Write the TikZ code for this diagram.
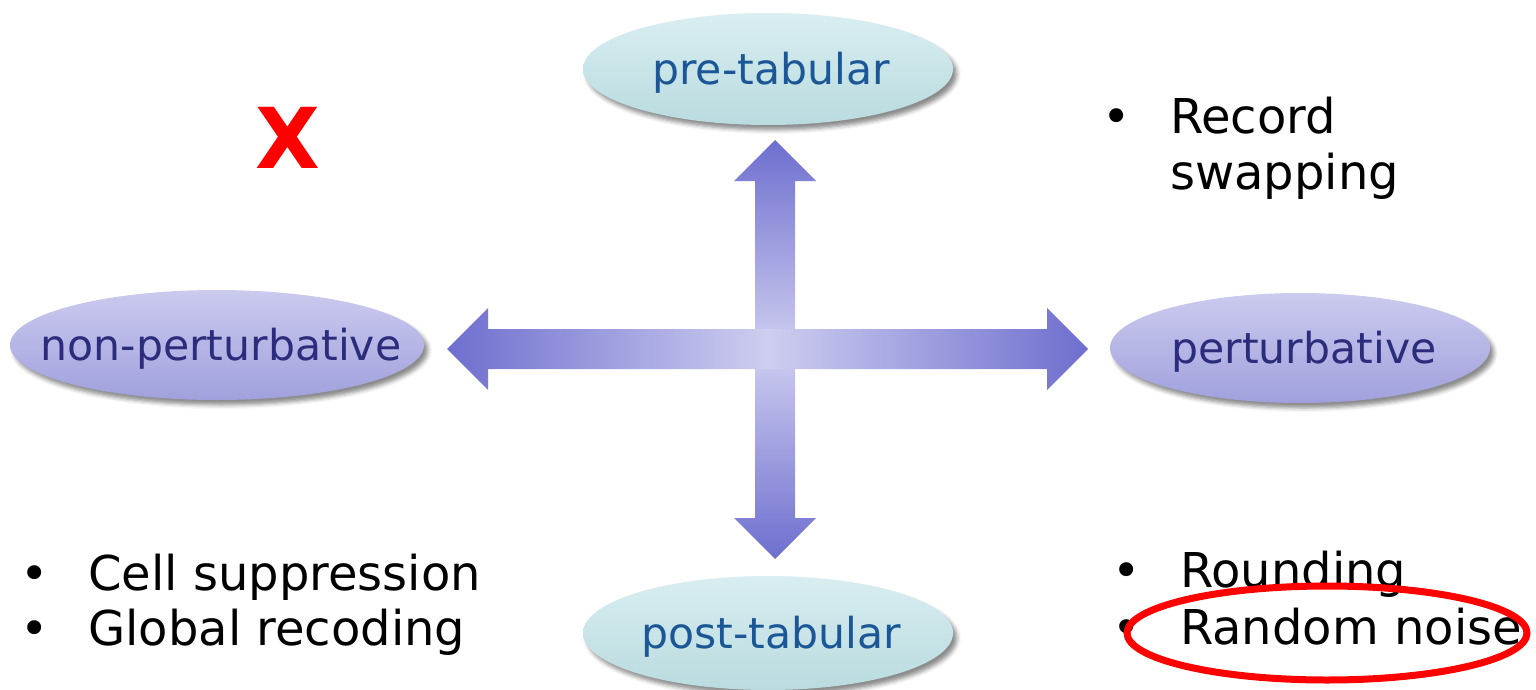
\documentclass[tikz,border=0pt]{standalone}
\usepackage{fontspec}
\setmainfont{DejaVu Sans}
\usetikzlibrary{shapes.geometric,shadows.blur}

\definecolor{tealtop}{HTML}{D9EEF1}
\definecolor{tealbot}{HTML}{B9DBDF}
\definecolor{tealtext}{HTML}{1B5796}
\definecolor{lavtop}{HTML}{CBCBEF}
\definecolor{lavbot}{HTML}{A0A0DD}
\definecolor{lavtext}{HTML}{2C2C7C}
\definecolor{arrowdark}{HTML}{6E6ECF}
\definecolor{arrowlight}{HTML}{CECEF0}

\tikzset{
  oval/.style={ellipse, inner sep=0pt,
    blur shadow={shadow xshift=4pt, shadow yshift=-5pt, shadow blur radius=4pt, shadow opacity=45}},
  tealoval/.style={oval, top color=tealtop, bottom color=tealbot},
  lavoval/.style={oval, top color=lavtop, bottom color=lavbot},
  ovaltext/.style={inner sep=0pt, font=\fontsize{42.6}{50}\selectfont},
  itemtext/.style={anchor=base west, inner sep=0pt, font=\fontsize{48}{56}\selectfont},
  bulletmark/.style={anchor=base, inner sep=0pt, font=\fontsize{48}{56}\selectfont},
}

\begin{document}
\begin{tikzpicture}[x=1pt, y=-1pt]
  \useasboundingbox (0,0) rectangle (1536,690);

  % the four categories: shaded ovals with their labels on top
  \node[tealoval, minimum width=370pt, minimum height=112pt] (pre)  at (768,69)  {};
  \node[tealoval, minimum width=370pt, minimum height=114pt] (post) at (768,633) {};
  \node[lavoval,  minimum width=414pt, minimum height=110pt] (non)  at (217,345) {};
  \node[lavoval,  minimum width=380pt, minimum height=110pt] (pert) at (1300,348) {};
  \node[ovaltext, text=tealtext] (prelabel)  at ([xshift=3pt,yshift=-4pt]pre.center)  {pre-tabular};
  \node[ovaltext, text=tealtext] (postlabel) at ([xshift=3pt,yshift=-4pt]post.center) {post-tabular};
  \node[ovaltext, text=lavtext]  (nonlabel)  at ([xshift=4pt,yshift=-4pt]non.center)  {non-perturbative};
  \node[ovaltext, text=lavtext]  (pertlabel) at ([xshift=4pt,yshift=-4pt]pert.center) {perturbative};

  % two double-headed block arrows crossing in the middle
  \coordinate (c) at (775,349);
  \shade[top color=arrowdark, bottom color=arrowdark, middle color=arrowlight]
    (775,140) -- (816,181) -- (795,181) -- (795,518) -- (816,518) -- (775,559)
    -- (734,518) -- (755,518) -- (755,181) -- (734,181) -- cycle;
  \shade[left color=arrowdark, right color=arrowdark, middle color=arrowlight]
    (447,349) -- (488,308) -- (488,329) -- (1047,329) -- (1047,308) -- (1088,349)
    -- (1047,390) -- (1047,369) -- (488,369) -- (488,390) -- cycle;

  % red cross in the empty quadrant
  \node[text=red, font=\fontsize{84}{90}\selectfont\bfseries, inner sep=0pt] (cross) at (288,138) {X};

  % pre-tabular / perturbative
  \node[bulletmark] (b1) at (1117,133) {•};
  \node[itemtext] (t1) at (1170,133) {Record};
  \node[itemtext] (t1b) at (1170,189) {swapping};

  % post-tabular / non-perturbative
  \node[bulletmark] (b2) at (35,590) {•};
  \node[itemtext] (t2) at (88,590) {Cell suppression};
  \node[bulletmark] (b3) at (35,645) {•};
  \node[itemtext] (t3) at (88,645) {Global recoding};

  % post-tabular / perturbative
  \node[bulletmark] (b4) at (1127,587) {•};
  \node[itemtext] (t4) at (1180,587) {Rounding};
  \node[bulletmark] (b5) at (1127,644) {•};
  \node[itemtext] (t5) at (1180,644) {Random noise};

  % highlight ring
  \draw[red, line width=7pt] (1327,633) ellipse [x radius=200, y radius=47];
\end{tikzpicture}
\end{document}
